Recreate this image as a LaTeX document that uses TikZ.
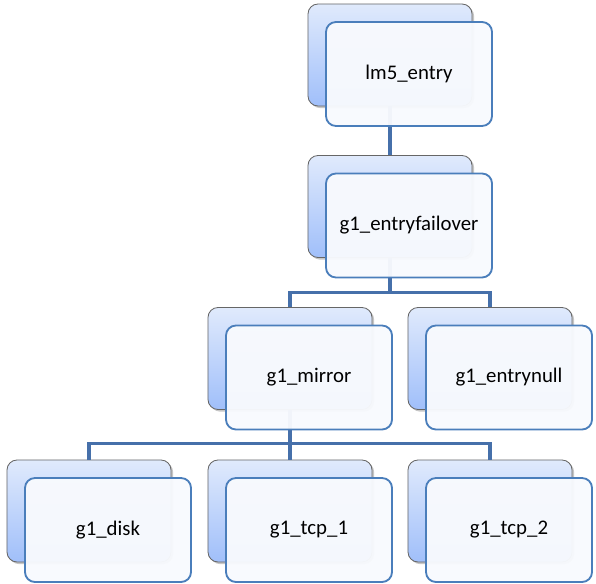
\documentclass[tikz,border=0pt]{standalone}
\usepackage{fontspec}
\setmainfont{Carlito}
\usetikzlibrary{positioning,shadows}
\definecolor{boxline}{RGB}{74,126,187}
\definecolor{linkblue}{RGB}{70,112,170}
\definecolor{backtop}{RGB}{224,234,252}
\definecolor{backbot}{RGB}{160,191,250}
\definecolor{frontfill}{RGB}{248,250,254}

\begin{document}
\begin{tikzpicture}[x=0.025cm, y=0.025cm,
    backbox/.style={rectangle, rounded corners=0.25cm, draw=gray!80!black,
      line width=0.6pt, top color=backtop, bottom color=backbot,
      minimum width=4.1cm, minimum height=2.55cm, inner sep=0pt, outer sep=0pt,
      drop shadow={shadow xshift=1.5pt, shadow yshift=-1.5pt, opacity=0.45}},
    frontbox/.style={rectangle, rounded corners=0.25cm, draw=boxline,
      line width=1.3pt, fill=frontfill, fill opacity=0.96, text opacity=1,
      minimum width=4.15cm, minimum height=2.6cm, inner sep=0pt, outer sep=0pt,
      font=\fontsize{14.8}{17}\selectfont},
    link/.style={draw=linkblue, line width=2.2pt}]
  \useasboundingbox (0,0) rectangle (596,-583);
  % back boxes
  \node[backbox] (lm5b)  at (390,-55)    {};
  \node[backbox] (fob)   at (390,-206.5) {};
  \node[backbox] (mirb)  at (290,-358.5) {};
  \node[backbox] (nullb) at (490,-358.5) {};
  \node[backbox] (diskb) at (89,-511)    {};
  \node[backbox] (tcpab) at (290,-511)   {};
  \node[backbox] (tcpbb) at (490,-511)   {};
  % connectors
  \draw[link] (lm5b.south) -- (fob.north);
  \draw[link] (fob.south) -- ++(0,-35) -| (mirb.north);
  \draw[link] (fob.south) -- ++(0,-35) -| (nullb.north);
  \draw[link] (mirb.south) -- ++(0,-34) -| (diskb.north);
  \draw[link] (mirb.south) -- (tcpab.north);
  \draw[link] (mirb.south) -- ++(0,-34) -| (tcpbb.north);
  % front boxes
  \node[frontbox] (lm5)  at ([shift={(19,-19)}]lm5b)  {lm5\_entry};
  \node[frontbox] (fo)   at ([shift={(19,-19)}]fob)   {g1\_entryfailover};
  \node[frontbox] (mir)  at ([shift={(19,-19)}]mirb)  {g1\_mirror};
  \node[frontbox] (null) at ([shift={(19,-19)}]nullb) {g1\_entrynull};
  \node[frontbox] (disk) at ([shift={(19,-19)}]diskb) {g1\_disk};
  \node[frontbox] (tcpa) at ([shift={(19,-19)}]tcpab) {g1\_tcp\_1};
  \node[frontbox] (tcpb) at ([shift={(19,-19)}]tcpbb) {g1\_tcp\_2};
\end{tikzpicture}
\end{document}
